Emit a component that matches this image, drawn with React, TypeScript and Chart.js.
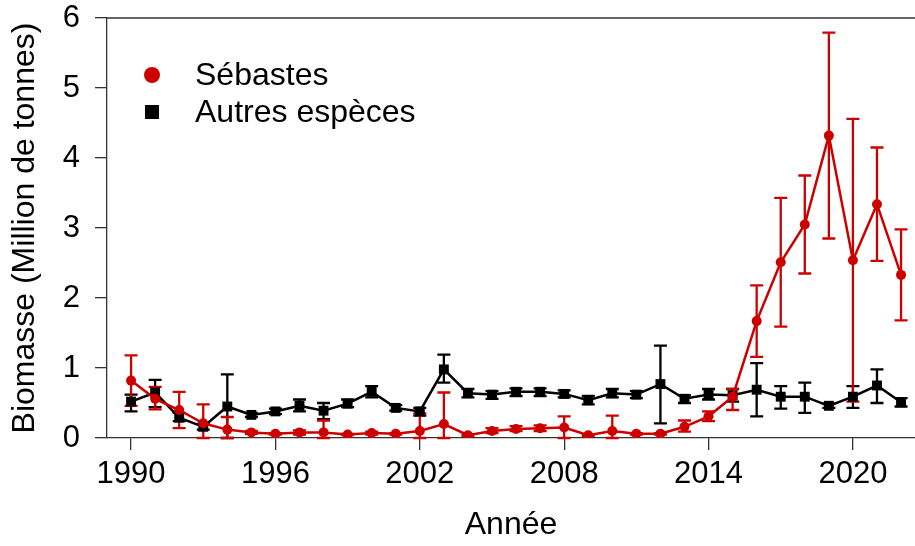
import React, { useEffect, useRef } from "react";
import { Chart, registerables } from "chart.js";

Chart.register(...registerables);

const years = [1990, 1991, 1992, 1993, 1994, 1995, 1996, 1997, 1998, 1999, 2000, 2001, 2002, 2003, 2004, 2005, 2006, 2007, 2008, 2009, 2010, 2011, 2012, 2013, 2014, 2015, 2016, 2017, 2018, 2019, 2020, 2021, 2022];

const sebastesMean = [0.82, 0.56, 0.40, 0.21, 0.12, 0.08, 0.06, 0.08, 0.08, 0.05, 0.07, 0.06, 0.10, 0.20, 0.04, 0.10, 0.13, 0.14, 0.15, 0.04, 0.10, 0.06, 0.06, 0.16, 0.31, 0.59, 1.67, 2.51, 3.05, 4.32, 2.54, 3.34, 2.33];
const sebastesLow = [0.46, 0.41, 0.14, 0.0, 0.0, 0.06, 0.05, 0.05, 0.0, 0.04, 0.05, 0.05, 0.0, 0.0, 0.03, 0.07, 0.10, 0.10, 0.0, 0.03, 0.0, 0.05, 0.05, 0.09, 0.24, 0.40, 1.16, 1.59, 2.35, 2.85, 0.52, 2.53, 1.68];
const sebastesHigh = [1.18, 0.73, 0.66, 0.48, 0.30, 0.10, 0.07, 0.11, 0.25, 0.06, 0.09, 0.07, 0.35, 0.65, 0.05, 0.14, 0.17, 0.18, 0.31, 0.05, 0.32, 0.07, 0.07, 0.25, 0.38, 0.70, 2.18, 3.43, 3.75, 5.79, 4.56, 4.15, 2.98];

const autresMean = [0.52, 0.65, 0.29, 0.16, 0.45, 0.33, 0.38, 0.46, 0.39, 0.49, 0.66, 0.43, 0.38, 0.98, 0.64, 0.62, 0.66, 0.66, 0.63, 0.54, 0.64, 0.62, 0.77, 0.56, 0.62, 0.61, 0.69, 0.59, 0.59, 0.46, 0.59, 0.75, 0.51];
const autresLow = [0.38, 0.44, 0.24, 0.12, 0.0, 0.30, 0.34, 0.38, 0.27, 0.44, 0.58, 0.39, 0.32, 0.79, 0.58, 0.56, 0.60, 0.60, 0.58, 0.48, 0.58, 0.57, 0.21, 0.50, 0.55, 0.52, 0.31, 0.42, 0.36, 0.43, 0.43, 0.50, 0.45];
const autresHigh = [0.62, 0.83, 0.36, 0.20, 0.91, 0.36, 0.42, 0.55, 0.50, 0.55, 0.74, 0.47, 0.43, 1.19, 0.70, 0.67, 0.71, 0.71, 0.68, 0.60, 0.70, 0.67, 1.32, 0.61, 0.70, 0.70, 1.07, 0.74, 0.79, 0.49, 0.74, 0.98, 0.57];

const xTicks = [1990, 1996, 2002, 2008, 2014, 2020];
const yTicks = [0, 1, 2, 3, 4, 5, 6];
const legendLabels = ["Sébastes", "Autres espèces"];
const xTitle = "Année";
const yTitle = "Biomasse (Million de tonnes)";

const RED = "#CD0000";
const BLACK = "#000000";
const AXIS = "#333333";
const FONT = "'Liberation Sans', Arial, sans-serif";

const errorBars = {
  id: "errorBars",
  beforeDatasetsDraw(chart: any) {
    const { ctx, chartArea, scales } = chart;
    const x = scales.x;
    const y = scales.y;
    const sets = [
      { low: autresLow, high: autresHigh, color: BLACK },
      { low: sebastesLow, high: sebastesHigh, color: RED },
    ];
    ctx.save();
    ctx.beginPath();
    ctx.rect(chartArea.left, chartArea.top - 2, chartArea.right - chartArea.left, chartArea.bottom - chartArea.top + 4);
    ctx.clip();
    for (const s of sets) {
      ctx.strokeStyle = s.color;
      ctx.lineWidth = 2.3;
      for (let i = 0; i < years.length; i++) {
        const px = x.getPixelForValue(years[i]);
        const yl = y.getPixelForValue(s.low[i]);
        const yh = y.getPixelForValue(s.high[i]);
        ctx.beginPath();
        ctx.moveTo(px, yl);
        ctx.lineTo(px, yh);
        ctx.moveTo(px - 6.5, yl);
        ctx.lineTo(px + 6.5, yl);
        ctx.moveTo(px - 6.5, yh);
        ctx.lineTo(px + 6.5, yh);
        ctx.stroke();
      }
    }
    ctx.restore();
  },
  afterDraw(chart: any) {
    const { ctx, chartArea } = chart;
    ctx.save();
    ctx.strokeStyle = AXIS;
    ctx.lineWidth = 1.3;
    ctx.beginPath();
    ctx.moveTo(chartArea.left, chartArea.top);
    ctx.lineTo(chartArea.right, chartArea.top);
    ctx.stroke();
    // legend
    ctx.fillStyle = RED;
    ctx.beginPath();
    ctx.arc(152, 75, 8, 0, Math.PI * 2);
    ctx.fill();
    ctx.fillStyle = BLACK;
    ctx.fillRect(145, 105, 14, 14);
    ctx.fillStyle = "#000";
    ctx.font = `32px ${FONT}`;
    ctx.textBaseline = "middle";
    ctx.textAlign = "left";
    ctx.fillText(legendLabels[0], 195, 76);
    ctx.fillText(legendLabels[1], 195, 113);
    ctx.restore();
  },
};

export default function App() {
  const ref = useRef<HTMLCanvasElement | null>(null);
  useEffect(() => {
    document.body.style.margin = "0";
    const canvas = ref.current!;
    const chart = new Chart(canvas, {
      type: "line",
      data: {
        datasets: [
          {
            label: legendLabels[0],
            data: years.map((yr, i) => ({ x: yr, y: sebastesMean[i] })),
            borderColor: RED,
            backgroundColor: RED,
            borderWidth: 2.5,
            pointStyle: "circle",
            pointRadius: 5,
            pointBorderWidth: 0,
            pointBackgroundColor: RED,
            tension: 0,
            order: 0,
          },
          {
            label: legendLabels[1],
            data: years.map((yr, i) => ({ x: yr, y: autresMean[i] })),
            borderColor: BLACK,
            backgroundColor: BLACK,
            borderWidth: 2.5,
            pointStyle: "rect",
            pointRadius: 7,
            pointBorderWidth: 0,
            pointBackgroundColor: BLACK,
            tension: 0,
            order: 1,
          },
        ],
      },
      options: {
        responsive: false,
        animation: false,
        layout: { autoPadding: false, padding: { top: 18, right: 0, left: 0, bottom: 0 } },
        plugins: { legend: { display: false }, tooltip: { enabled: false } },
        scales: {
          x: {
            type: "linear",
            min: 1989.0,
            max: 2022.58,
            afterBuildTicks: (s: any) => {
              s.ticks = xTicks.map((v) => ({ value: v }));
            },
            afterFit: (s: any) => {
              s.height = 108;
              s.paddingLeft = 0;
              s.paddingRight = 0;
            },
            grid: { drawOnChartArea: false, drawTicks: true, tickLength: 12, color: AXIS, lineWidth: 1.3 },
            border: { display: true, color: AXIS, width: 1.3 },
            ticks: {
              color: "#000",
              font: { family: FONT, size: 31, lineHeight: 1.0 },
              padding: 9,
              maxRotation: 0,
              autoSkip: false,
              callback: (v: any) => String(v),
            },
            title: {
              display: true,
              text: xTitle,
              color: "#000",
              font: { family: FONT, size: 32, lineHeight: 1.2 },
              padding: { top: 0, bottom: 2 },
            },
          },
          y: {
            type: "linear",
            min: 0,
            max: 6,
            afterBuildTicks: (s: any) => {
              s.ticks = yTicks.map((v) => ({ value: v }));
            },
            afterFit: (s: any) => {
              s.width = 107;
              s.paddingTop = 0;
              s.paddingBottom = 0;
            },
            grid: { drawOnChartArea: false, drawTicks: true, tickLength: 12, color: AXIS, lineWidth: 1.3 },
            border: { display: true, color: AXIS, width: 1.3 },
            ticks: {
              color: "#000",
              font: { family: FONT, size: 31, lineHeight: 1.0 },
              padding: 15,
              callback: (v: any) => String(v),
            },
            title: {
              display: true,
              text: yTitle,
              color: "#000",
              font: { family: FONT, size: 32, lineHeight: 1.2 },
              padding: { top: 6, bottom: 0 },
            },
          },
        },
      },
      plugins: [errorBars],
    });
    return () => chart.destroy();
  }, []);
  return (
    <div style={{ position: "absolute", left: 0, top: 0, width: 915, height: 546 }}>
      <canvas ref={ref} width={915} height={546} style={{ display: "block" }} />
    </div>
  );
}
